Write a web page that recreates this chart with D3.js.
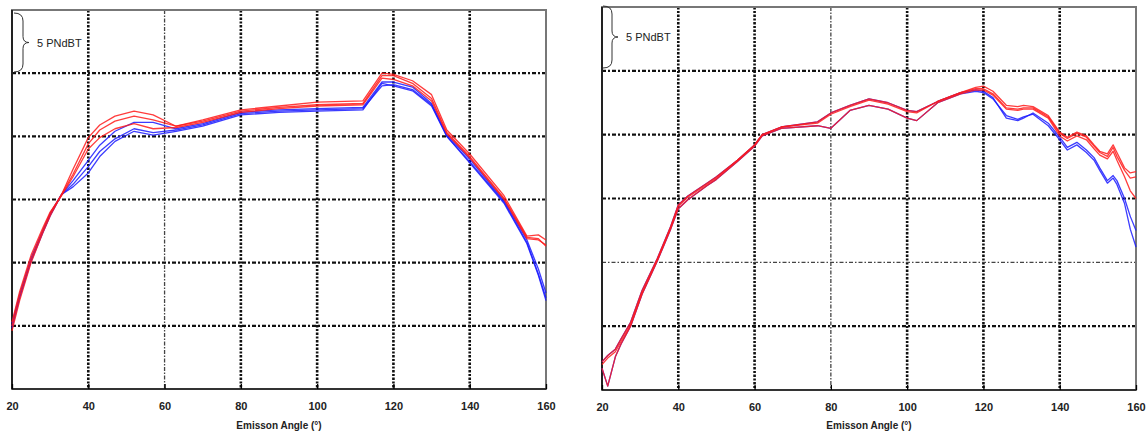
<!DOCTYPE html>
<html><head><meta charset="utf-8">
<script src="https://cdn.jsdelivr.net/npm/d3@7"></script>
<style>body{margin:0;background:#fff}svg{display:block}</style>
</head><body>
<svg id="c" width="1148" height="436"></svg>
<script>
// ---------- DATA ----------
const xTicks = [20, 40, 60, 80, 100, 120, 140, 160];
const yGrid = [5, 10, 15, 20, 25];
const axisTitle = "Emisson Angle (°)";
const scaleLabel = "5 PNdBT";

// Left panel
const leftAngles = [20, 22, 25, 28, 30, 33, 36, 40, 43, 47, 52, 57, 63, 70, 80, 90, 100, 112, 117, 120, 125, 130, 134, 140, 149, 155, 158, 160];
const leftRed1 = [4.6, 7.0, 10.0, 12.3, 13.7, 15.4, 17.4, 19.9, 20.9, 21.6, 22.0, 21.7, 20.8, 21.3, 22.1, 22.4, 22.7, 22.8, 25.0, 24.9, 24.4, 23.3, 20.5, 18.6, 15.3, 12.1, 12.2, 11.8];
const leftRed2 = [5.0, 7.4, 10.3, 12.5, 13.9, 15.4, 17.0, 19.4, 20.5, 21.2, 21.6, 21.3, 20.8, 21.2, 22.0, 22.3, 22.5, 22.6, 24.8, 24.8, 24.2, 23.0, 20.3, 18.4, 15.1, 12.0, 11.9, 11.3];
const leftRed3 = [5.3, 7.7, 10.6, 12.7, 14.0, 15.3, 16.8, 19.0, 19.9, 20.6, 21.0, 20.6, 20.7, 21.1, 21.9, 22.2, 22.4, 22.5, 24.6, 24.5, 24.0, 22.8, 20.2, 18.3, 15.0, 11.9, 11.8, 11.4];
const leftBlue1 = [5.0, 7.3, 10.2, 12.4, 13.8, 15.4, 16.5, 18.1, 19.3, 20.4, 21.1, 21.1, 20.6, 21.0, 21.9, 22.1, 22.2, 22.3, 24.3, 24.3, 23.9, 22.6, 20.1, 18.2, 14.9, 11.8, 9.5, 7.6];
const leftBlue2 = [4.8, 7.2, 10.1, 12.3, 13.7, 15.4, 16.2, 17.6, 18.8, 19.8, 20.6, 20.3, 20.5, 20.9, 21.8, 22.0, 22.1, 22.2, 24.0, 24.1, 23.7, 22.5, 20.0, 18.0, 14.8, 11.6, 9.1, 7.2];
const leftBlue3 = [5.2, 7.5, 10.4, 12.5, 13.9, 15.4, 16.0, 17.1, 18.4, 19.6, 20.4, 20.1, 20.4, 20.8, 21.7, 21.9, 22.0, 22.1, 24.2, 24.0, 23.6, 22.4, 20.0, 17.9, 14.7, 11.5, 9.0, 7.0];

// Right panel
const rightAngles = [20, 21.5, 23.5, 25, 27.5, 30.5, 34.5, 38, 40, 42.5, 47.5, 50, 55.5, 60, 62, 67, 76.5, 80, 85, 90, 95, 100, 102.5, 108, 114, 118, 120, 122.5, 126, 129, 130.5, 133, 137, 140, 142, 144.5, 147, 149, 150.5, 152.5, 154, 155, 157, 158.5, 160];
const rightRed1 = [2.2, 2.7, 3.2, 4.0, 5.3, 7.8, 10.3, 12.8, 14.5, 15.2, 16.2, 16.7, 18.0, 19.2, 20.0, 20.6, 21.0, 21.7, 22.3, 22.8, 22.5, 21.9, 21.8, 22.6, 23.3, 23.6, 23.6, 23.2, 22.1, 22.0, 22.1, 22.1, 21.4, 20.1, 19.7, 20.1, 19.8, 19.1, 18.6, 18.3, 19.0, 18.3, 17.2, 16.6, 16.7];
const rightRed2 = [1.7, 0.3, 2.6, 3.6, 5.0, 7.5, 10.1, 12.6, 14.2, 14.9, 16.0, 16.5, 17.9, 19.1, 19.9, 20.5, 20.7, 20.5, 21.9, 22.3, 22.0, 21.3, 21.1, 22.5, 23.2, 23.5, 23.5, 23.1, 22.0, 21.9, 22.0, 22.0, 21.3, 19.9, 19.5, 19.9, 19.6, 18.9, 18.4, 18.1, 18.7, 18.0, 16.7, 15.6, 15.0];
const rightRed3 = [2.0, 2.5, 3.0, 3.8, 5.1, 7.6, 10.2, 12.7, 14.4, 15.1, 16.1, 16.6, 18.0, 19.2, 20.0, 20.6, 20.9, 21.6, 22.2, 22.7, 22.4, 21.8, 21.7, 22.6, 23.3, 23.7, 23.8, 23.4, 22.3, 22.2, 22.3, 22.2, 21.5, 20.2, 19.8, 20.2, 19.9, 19.2, 18.7, 18.5, 19.2, 18.6, 17.4, 17.0, 17.1];
const rightBlue1 = [2.2, 2.7, 3.2, 4.0, 5.3, 7.8, 10.3, 12.8, 14.5, 15.2, 16.2, 16.7, 18.0, 19.2, 20.0, 20.6, 21.0, 21.7, 22.3, 22.8, 22.5, 21.9, 21.8, 22.6, 23.3, 23.5, 23.4, 22.9, 21.3, 21.1, 21.3, 21.7, 20.9, 19.8, 19.0, 19.4, 18.8, 18.2, 17.4, 16.4, 16.8, 16.4, 15.0, 13.6, 12.5];
const rightBlue2 = [1.7, 0.3, 2.6, 3.6, 5.0, 7.5, 10.1, 12.6, 14.2, 14.9, 16.0, 16.5, 17.9, 19.1, 19.9, 20.5, 20.7, 20.5, 21.9, 22.3, 22.0, 21.3, 21.1, 22.5, 23.2, 23.4, 23.3, 22.8, 21.5, 21.2, 21.4, 21.6, 20.7, 19.6, 18.8, 19.2, 18.6, 18.0, 17.2, 16.2, 16.6, 16.1, 14.6, 12.6, 11.2];

// ---------- DRAW ----------
const svg = d3.select("#c");

function panel(opts) {
  const x = d3.scaleLinear().domain([20, 160]).range([opts.x0, opts.x1]);
  const y = d3.scaleLinear().domain([0, 30]).range([opts.y1, opts.y0]);
  const g = svg.append("g");

  // grid
  xTicks.slice(1, -1).forEach(v => {
    const thin = opts.thinX.includes(v);
    g.append("line").attr("x1", x(v)).attr("x2", x(v)).attr("y1", y(30)).attr("y2", y(0))
      .attr("stroke", thin ? "#444" : "#111").attr("stroke-width", thin ? 1.3 : 2.6)
      .attr("stroke-dasharray", thin ? "4,1.5,1.5,1.5" : "2.5,1.5,2,1.5");
  });
  yGrid.forEach(v => {
    const thin = opts.thinY.includes(v);
    g.append("line").attr("x1", x(20)).attr("x2", x(160)).attr("y1", y(v)).attr("y2", y(v))
      .attr("stroke", thin ? "#444" : "#111").attr("stroke-width", thin ? 1.3 : 2.2)
      .attr("stroke-dasharray", thin ? "4,2,1.5,2" : "4,2,2,2");
  });

  // frame
  g.append("rect").attr("x", x(20)).attr("y", y(30)).attr("width", x(160) - x(20)).attr("height", y(0) - y(30))
    .attr("fill", "none").attr("stroke", "#777").attr("stroke-width", 2);
  g.append("line").attr("x1", x(20)).attr("x2", x(20)).attr("y1", y(30)).attr("y2", y(0))
    .attr("stroke", "#222").attr("stroke-width", 2);
  g.append("line").attr("x1", x(20)).attr("x2", x(160)).attr("y1", y(0)).attr("y2", y(0))
    .attr("stroke", "#333").attr("stroke-width", 2);

  // x axis
  const ax = g.append("g").attr("transform", `translate(0,${y(0)})`)
    .call(d3.axisBottom(x).tickValues(xTicks).tickFormat(d3.format("d")).tickSize(-5).tickPadding(13));
  ax.select(".domain").remove();
  ax.selectAll(".tick line").attr("stroke", "#000").attr("stroke-width", 1.3);
  ax.selectAll(".tick text").attr("font-family", "Liberation Sans, Arial, sans-serif")
    .attr("font-size", 11).attr("font-weight", "bold").attr("fill", "#222");

  g.append("text").attr("x", (x(20) + x(160)) / 2).attr("y", 429)
    .attr("text-anchor", "middle").attr("font-family", "Liberation Sans, Arial, sans-serif")
    .attr("font-size", 10).attr("font-weight", "bold").attr("fill", "#222").text(axisTitle);

  // scale brace
  const bx = x(20) + opts.bOff, t = opts.bTop, b = opts.bBot, m = (t + b) / 2;
  g.append("path")
    .attr("d", `M${bx},${t} Q${bx + 9},${t} ${bx + 9},${t + 8} L${bx + 9},${m - 6} Q${bx + 9},${m} ${bx + 15},${m} Q${bx + 9},${m} ${bx + 9},${m + 6} L${bx + 9},${b - 8} Q${bx + 9},${b} ${bx},${b}`)
    .attr("fill", "none").attr("stroke", "#333").attr("stroke-width", 1);
  g.append("text").attr("x", bx + 23).attr("y", m + 4)
    .attr("font-family", "Liberation Sans, Arial, sans-serif").attr("font-size", 11).attr("fill", "#222")
    .text(scaleLabel);

  // series
  const line = d3.line().x(d => x(d[0])).y(d => y(d[1]));
  opts.series.forEach(s => {
    g.append("path").datum(opts.angles.map((a, i) => [a, s.v[i]]))
      .attr("d", line).attr("fill", "none").attr("stroke", s.c)
      .attr("stroke-width", 1.3).attr("stroke-opacity", 0.85).attr("stroke-linejoin", "round");
  });
}

panel({
  x0: 12, x1: 546, y0: 10, y1: 389, thinX: [60], thinY: [], angles: leftAngles,
  bOff: 2, bTop: 13, bBot: 72,
  series: [
    { v: leftBlue1, c: "#1a1aff" }, { v: leftBlue2, c: "#1a1aff" }, { v: leftBlue3, c: "#1a1aff" },
    { v: leftRed1, c: "#ff1a1a" }, { v: leftRed2, c: "#ff1a1a" }, { v: leftRed3, c: "#ff1a1a" }
  ]
});
panel({
  x0: 602, x1: 1136, y0: 7, y1: 390, thinX: [80], thinY: [10], angles: rightAngles,
  bOff: 1, bTop: 6, bBot: 68,
  series: [
    { v: rightBlue1, c: "#1a1aff" }, { v: rightBlue2, c: "#1a1aff" },
    { v: rightRed1, c: "#ff1a1a" }, { v: rightRed2, c: "#ff1a1a" }, { v: rightRed3, c: "#ff1a1a" }
  ]
});
</script>
</body></html>
